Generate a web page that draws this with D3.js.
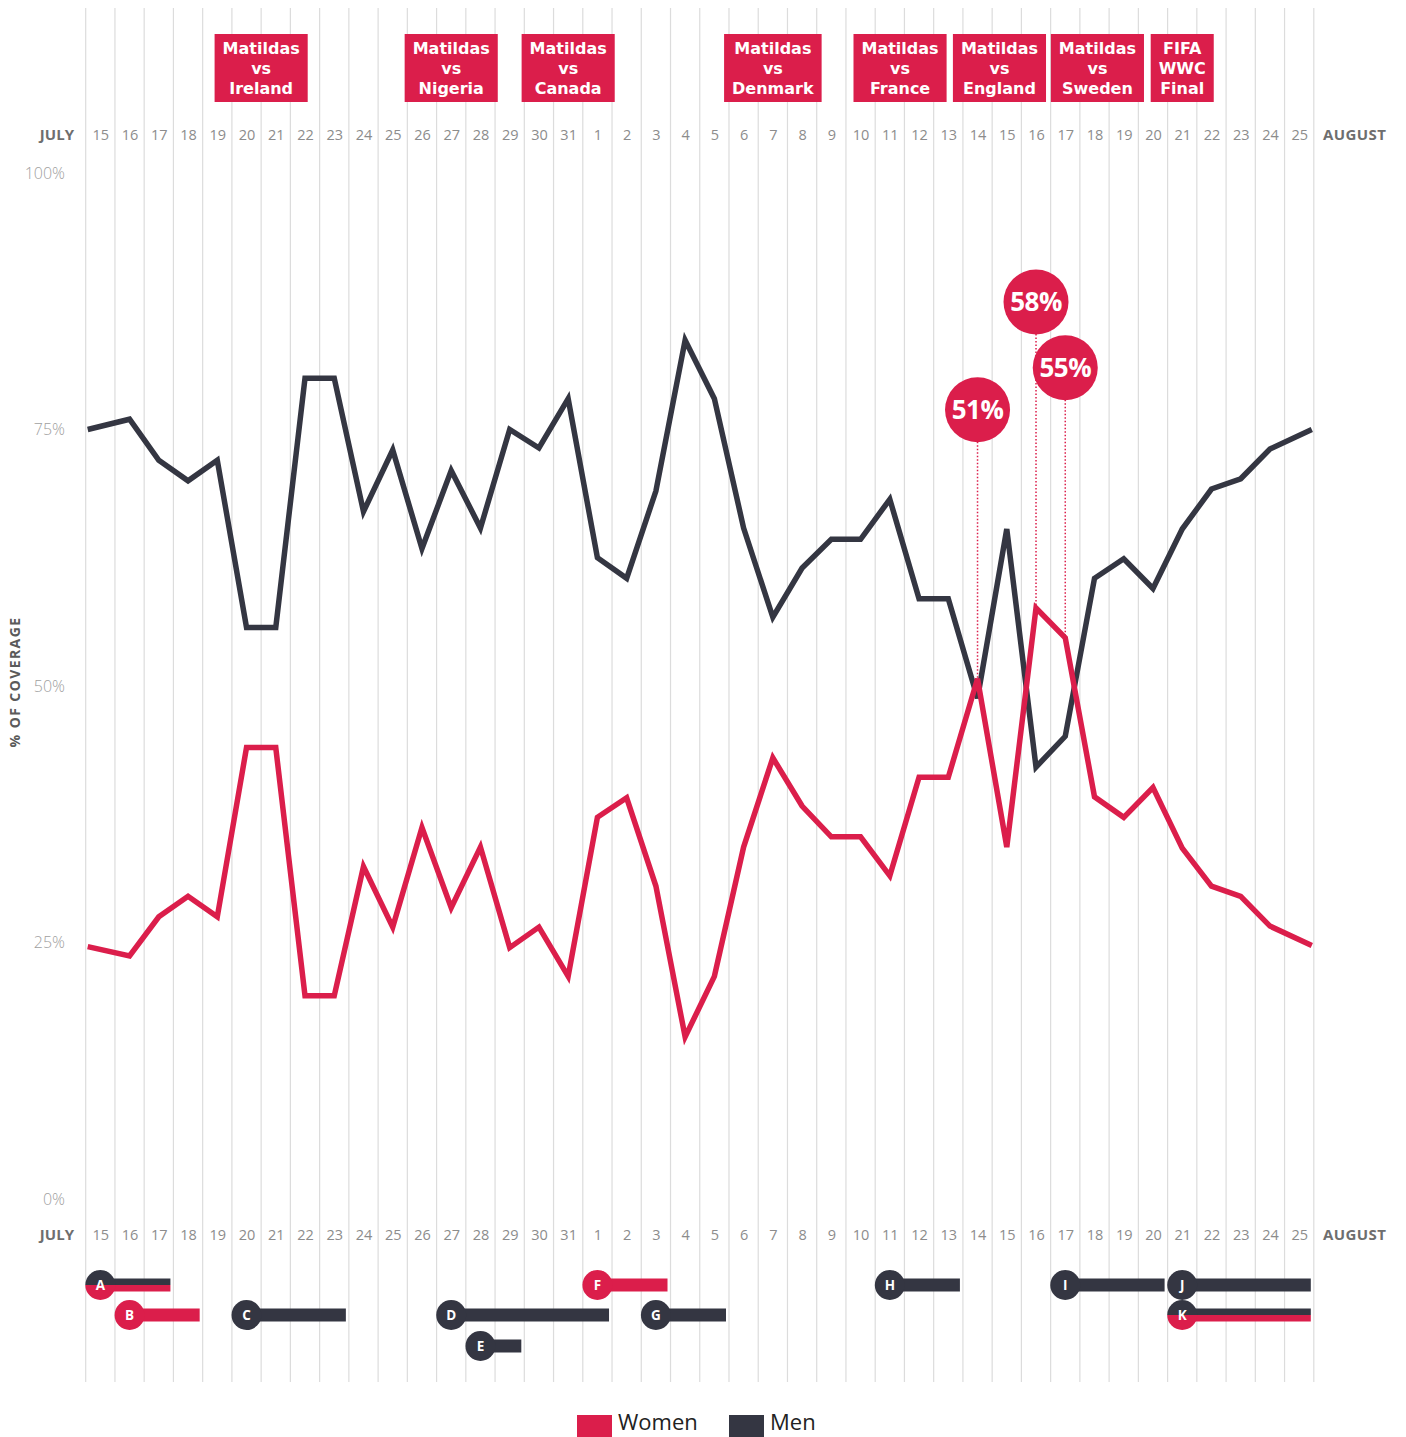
<!DOCTYPE html>
<html>
<head>
<meta charset="utf-8">
<script src="https://cdn.jsdelivr.net/npm/d3@7"></script>
<style>
  body { margin: 0; background: #fff; }
  text { font-family: "Open Sans", "Noto Sans", sans-serif; }
</style>
</head>
<body>
<div id="chart"></div>
<script>
// days shown on the axis, 15 July to 25 August
var days = ["15","16","17","18","19","20","21","22","23","24","25","26","27","28","29","30","31",
  "1","2","3","4","5","6","7","8","9","10","11","12","13","14","15","16","17","18","19","20","21","22","23","24","25"];

// % of coverage per day
var women = [24.6, 23.7, 27.5, 29.5, 27.5, 44, 44, 19.8, 19.8, 32.4, 26.5, 36.2, 28.4, 34.3, 24.5, 26.5, 21.7,
  37.2, 39.1, 30.5, 15.8, 21.7, 34.3, 43, 38.3, 35.3, 35.3, 31.5, 41.1, 41.1, 50.7, 34.3, 57.6, 54.7, 39.2, 37.2, 40.1,
  34.2, 30.5, 29.5, 26.6, 24.7];
var men = [75, 76, 72, 70, 72, 55.7, 55.7, 80, 80, 67, 73, 63.4, 71, 65.4, 75, 73.2, 78,
  62.5, 60.5, 69, 83.7, 78, 65.4, 56.7, 61.5, 64.3, 64.3, 68.2, 58.5, 58.5, 48.8, 65.3, 42.1, 45.1, 60.5, 62.4, 59.5,
  65.3, 69.2, 70.2, 73.1, 75];

var yTicks = [0, 25, 50, 75, 100];

// match boxes along the top
var matchLabels = [
  ["Matildas", "vs", "Ireland"],
  ["Matildas", "vs", "Nigeria"],
  ["Matildas", "vs", "Canada"],
  ["Matildas", "vs", "Denmark"],
  ["Matildas", "vs", "France"],
  ["Matildas", "vs", "England"],
  ["Matildas", "vs", "Sweden"],
  ["FIFA", "WWC", "Final"]
];
var matchAt = [5.5, 12, 16, 23, 27.35, 30.75, 34.1, 37]; // day index the box sits over

// callouts where women out-covered men
var callouts = [30, 32, 33];

// lettered events under the chart
var eventLetters = ["A","B","C","D","E","F","G","H","I","J","K"];
var eventStart   = [0, 1, 5, 12, 13, 17, 19, 27, 33, 37, 37];
var eventEnd     = [2, 3, 8, 17, 14, 19, 21, 29, 36, 41, 41];
var eventGroup   = ["both","women","men","men","men","women","men","men","men","men","both"];
var eventRow     = [0, 1, 1, 1, 2, 0, 1, 0, 0, 0, 1];

var legendKeys = ["Women", "Men"];

var width = 1406, height = 1437;
var red = "#db1e4b", dark = "#343642";

var svg = d3.select("#chart").append("svg")
  .attr("width", width)
  .attr("height", height);

var x = d3.scaleLinear().domain([-0.5, days.length - 0.5]).range([85.7, 1313.8]);
var y = d3.scaleLinear().domain([0, 100]).range([1199, 173]);

// vertical grid
svg.append("g")
  .selectAll("line")
  .data(d3.range(days.length + 1))
  .enter()
  .append("line")
  .attr("x1", (k) => x(k - 0.5))
  .attr("x2", (k) => x(k - 0.5))
  .attr("y1", 8)
  .attr("y2", 1382)
  .style("stroke", "#dcdcdc")
  .style("stroke-width", 1.2);

// day label rows, top and bottom
function dayAxis(yPos) {
  var g = svg.append("g")
    .attr("transform", "translate(0," + yPos + ")")
    .call(d3.axisBottom(x).tickValues(d3.range(days.length)).tickFormat((i) => days[i]).tickSize(0));
  g.select(".domain").remove();
  g.selectAll("text")
    .attr("y", 0)
    .attr("dy", "0.35em")
    .style("font-size", "14.5px")
    .style("fill", "#8c8c8c")
    .style("font-family", "'Open Sans', sans-serif");
  g.append("text").text("JULY")
    .attr("x", 74).attr("y", 0).attr("dy", "0.35em")
    .style("text-anchor", "end").style("font-weight", 700).style("font-size", "15px").style("fill", "#6e6e6e");
  g.append("text").text("AUGUST")
    .attr("x", 1323).attr("y", 0).attr("dy", "0.35em")
    .style("text-anchor", "start").style("font-weight", 700).style("font-size", "15px")
    .style("letter-spacing", "0.4px").style("fill", "#6e6e6e");
}
dayAxis(135);
dayAxis(1235);

// y axis
var yAxis = svg.append("g")
  .attr("transform", "translate(65,0)")
  .call(d3.axisLeft(y).tickValues(yTicks).tickFormat((d) => d + "%").tickSize(0).tickPadding(0));
yAxis.select(".domain").remove();
yAxis.selectAll("text")
  .style("font-size", "16px")
  .style("font-weight", 300)
  .style("fill", "#a0a0a0")
  .style("font-family", "'Open Sans', sans-serif");

svg.append("text")
  .text("% OF COVERAGE")
  .attr("transform", "translate(20,682) rotate(-90)")
  .style("text-anchor", "middle")
  .style("font-size", "14px")
  .style("font-weight", 700)
  .style("letter-spacing", "1.4px")
  .style("fill", "#5a5a5a");

// first and last points sit on the outer grid lines
function px(i) {
  if (i === 0) return x(-0.5) + 2;
  if (i === days.length - 1) return x(days.length - 0.5) - 2;
  return x(i);
}
var line = d3.line().x((d, i) => px(i)).y((d) => y(d));

svg.append("path")
  .datum(men)
  .attr("d", line)
  .style("fill", "none")
  .style("stroke", dark)
  .style("stroke-width", 5.5)
  .style("stroke-linejoin", "miter");

svg.append("path")
  .datum(women)
  .attr("d", line)
  .style("fill", "none")
  .style("stroke", red)
  .style("stroke-width", 5.5)
  .style("stroke-linejoin", "miter");

// callout bubbles
var lift = [269, 306, 270];
var bubble = svg.append("g")
  .selectAll("g")
  .data(callouts)
  .enter()
  .append("g");

bubble.append("line")
  .attr("x1", (d) => x(d))
  .attr("x2", (d) => x(d))
  .attr("y1", (d, i) => y(women[d]) - lift[i] + 32)
  .attr("y2", (d) => y(women[d]))
  .style("stroke", red)
  .style("stroke-width", 1.5)
  .style("stroke-dasharray", "1.5,2");

bubble.append("circle")
  .attr("cx", (d) => x(d))
  .attr("cy", (d, i) => y(women[d]) - lift[i])
  .attr("r", 32.5)
  .style("fill", red);

bubble.append("text")
  .text((d) => Math.round(women[d]) + "%")
  .attr("x", (d) => x(d))
  .attr("y", (d, i) => y(women[d]) - lift[i])
  .attr("dy", "0.35em")
  .style("text-anchor", "middle")
  .style("font-size", "26px")
  .style("font-weight", 700)
  .style("letter-spacing", "-0.5px")
  .style("fill", "#fff");

// match boxes
var match = svg.append("g")
  .selectAll("g")
  .data(matchLabels)
  .enter()
  .append("g")
  .attr("transform", (d, i) => "translate(" + x(matchAt[i]) + ",0)");

match.append("rect")
  .attr("y", 34)
  .attr("height", 68)
  .style("fill", red);

var matchText = match.append("text")
  .attr("y", 48)
  .style("text-anchor", "middle")
  .style("font-family", "'DejaVu Sans', sans-serif")
  .style("font-size", "16px")
  .style("font-weight", 700)
  .style("fill", "#fff");

matchText.selectAll("tspan")
  .data((d) => d)
  .enter()
  .append("tspan")
  .text((t) => t)
  .attr("x", 0)
  .attr("y", (t, j) => 48 + j * 20)
  .attr("dy", "0.35em");

match.each(function () {
  var g = d3.select(this);
  var w = d3.max(g.selectAll("tspan").nodes(), (n) => n.getComputedTextLength()) + 16;
  g.select("rect").attr("x", -w / 2).attr("width", w);
});

// lettered events
var rowY = [1285, 1315, 1346];
var halfTop = d3.arc().innerRadius(0).outerRadius(15).startAngle(-Math.PI / 2).endAngle(Math.PI / 2);
var halfBottom = d3.arc().innerRadius(0).outerRadius(15).startAngle(Math.PI / 2).endAngle(Math.PI * 1.5);

var ev = svg.append("g")
  .selectAll("g")
  .data(eventLetters)
  .enter()
  .append("g")
  .attr("transform", (d, i) => "translate(" + x(eventStart[i]) + "," + rowY[eventRow[i]] + ")");

ev.each(function (d, i) {
  var g = d3.select(this);
  var len = x(eventEnd[i] + 0.5) - 3 - x(eventStart[i]);
  if (eventGroup[i] === "both") {
    g.append("rect").attr("x", 0).attr("y", -6.5).attr("width", len).attr("height", 6.5).style("fill", dark);
    g.append("rect").attr("x", 0).attr("y", 0).attr("width", len).attr("height", 6.5).style("fill", red);
    g.append("path").attr("d", halfTop).style("fill", dark);
    g.append("path").attr("d", halfBottom).style("fill", red);
  } else {
    var c = eventGroup[i] === "women" ? red : dark;
    g.append("rect").attr("x", 0).attr("y", -6.5).attr("width", len).attr("height", 13).style("fill", c);
    g.append("circle").attr("r", 15).style("fill", c);
  }
  g.append("text")
    .text(d)
    .attr("dy", "0.35em")
    .style("text-anchor", "middle")
    .style("font-size", "13.5px")
    .style("font-weight", 700)
    .style("fill", "#fff");
});

// legend
var legend = svg.append("g")
  .selectAll("g")
  .data(legendKeys)
  .enter()
  .append("g")
  .attr("transform", (d, i) => "translate(" + (i === 0 ? 577 : 729) + ",0)");

legend.append("rect")
  .attr("y", 1415)
  .attr("width", 35)
  .attr("height", 22)
  .style("fill", (d, i) => (i === 0 ? red : dark));

legend.append("text")
  .text((d) => d)
  .attr("x", 41)
  .attr("y", 1430)
  .style("font-size", "22px")
  .style("fill", "#222");
</script>
</body>
</html>
